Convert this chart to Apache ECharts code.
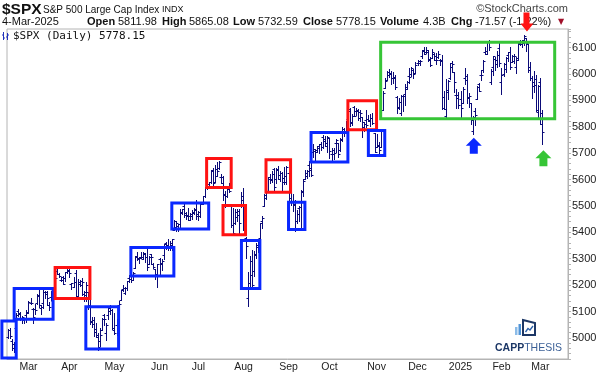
<!DOCTYPE html>
<html>
<head>
<meta charset="utf-8">
<script src="https://cdn.jsdelivr.net/npm/echarts@6/dist/echarts.min.js"></script>
<style>
  html, body { margin: 0; padding: 0; background: #fff; }
  #chart { width: 600px; height: 376px; }
</style>
</head>
<body>
<div id="chart"></div>
<script>
// trading days, market holidays skipped
const holidays = ['2024-02-19', '2024-03-29', '2024-05-27', '2024-06-19', '2024-07-04', '2024-09-02',
  '2024-11-28', '2024-12-25', '2025-01-01', '2025-01-09', '2025-01-20', '2025-02-17'];
const monthNames = ['Jan', 'Feb', 'Mar', 'Apr', 'May', 'Jun', 'Jul', 'Aug', 'Sep', 'Oct', 'Nov', 'Dec'];
const firstBar = '2024-02-15';

// daily OHLC from 15-Feb-2024, one line per month (Feb-2024 ... Mar-2025)
const open = [
  5003, 5031, 4989, 4963, 5039, 5101, 5093, 5075, 5067, 5085,
  5099, 5131, 5111, 5108, 5132, 5164, 5112, 5134, 5173, 5175, 5123, 5155, 5139, 5182, 5253, 5242, 5220, 5229, 5226, 5248,
  5258, 5204, 5194, 5244, 5159, 5211, 5217, 5168, 5173, 5172, 5150, 5065, 5069, 5032, 5005, 4987, 5029, 5085, 5020, 5085, 5114, 5104,
  5029, 5049, 5123, 5142, 5187, 5169, 5189, 5225, 5233, 5221, 5263, 5310, 5303, 5305, 5299, 5319, 5340, 5281, 5316, 5279, 5260, 5243,
  5297, 5278, 5314, 5358, 5344, 5341, 5353, 5409, 5442, 5424, 5431, 5476, 5500, 5467, 5460, 5461, 5461, 5474, 5488,
  5471, 5462, 5507, 5538, 5573, 5584, 5591, 5635, 5591, 5638, 5644, 5610, 5609, 5543, 5538, 5565, 5506, 5429, 5434, 5477, 5479, 5506,
  5538, 5377, 5151, 5206, 5293, 5253, 5315, 5352, 5377, 5442, 5501, 5531, 5557, 5603, 5603, 5638, 5603, 5640, 5603, 5625, 5607, 5613,
  5624, 5520, 5520, 5507, 5442, 5491, 5496, 5557, 5603, 5615, 5656, 5642, 5703, 5709, 5712, 5728, 5734, 5762, 5755, 5727,
  5758, 5698, 5698, 5738, 5738, 5710, 5752, 5778, 5775, 5830, 5867, 5817, 5876, 5859, 5858, 5833, 5835, 5817, 5827, 5830, 5820, 5833, 5775,
  5723, 5725, 5722, 5865, 5947, 5977, 6009, 6004, 5986, 5990, 5913, 5874, 5850, 5917, 5924, 5944, 5992, 6000, 6014, 6004,
  6040, 6043, 6069, 6089, 6081, 6083, 6058, 6060, 6074, 6068, 6064, 6053, 6048, 5913, 5842, 5940, 5985, 6025, 6006, 5921, 5920,
  5903, 5891, 5983, 5993, 5911, 5891, 5782, 5860, 5906, 5961, 5995, 6014, 6081, 6076, 6121, 5969, 6027, 6058, 6051, 6097,
  5970, 5998, 6020, 6072, 6083, 6046, 6049, 6025, 6061, 6116, 6122, 6118, 6135, 6114, 6027, 5983, 5971, 5982, 5857,
  5968, 5812
];
const high = [
  5033, 5039, 4994, 4983, 5094, 5111, 5098, 5081, 5077, 5105,
  5140, 5150, 5115, 5128, 5166, 5189, 5125, 5180, 5179, 5177, 5137, 5176, 5180, 5226, 5261, 5246, 5229, 5235, 5249, 5265,
  5264, 5208, 5229, 5257, 5222, 5220, 5225, 5178, 5212, 5175, 5168, 5080, 5078, 5057, 5019, 5039, 5076, 5089, 5058, 5115, 5123, 5111,
  5096, 5073, 5139, 5181, 5200, 5192, 5215, 5240, 5237, 5250, 5312, 5325, 5305, 5325, 5324, 5323, 5342, 5312, 5316, 5282, 5260, 5280,
  5302, 5299, 5354, 5362, 5375, 5366, 5376, 5447, 5442, 5432, 5489, 5490, 5506, 5478, 5491, 5473, 5483, 5491, 5524,
  5480, 5510, 5539, 5570, 5583, 5591, 5635, 5642, 5656, 5667, 5670, 5622, 5614, 5558, 5570, 5585, 5508, 5492, 5488, 5488, 5490, 5552,
  5566, 5384, 5251, 5312, 5331, 5328, 5359, 5371, 5437, 5463, 5546, 5562, 5608, 5621, 5633, 5643, 5642, 5652, 5631, 5627, 5647, 5651,
  5624, 5552, 5546, 5522, 5484, 5498, 5560, 5601, 5636, 5636, 5671, 5690, 5734, 5715, 5725, 5735, 5741, 5767, 5764, 5765,
  5758, 5719, 5719, 5753, 5739, 5758, 5797, 5795, 5822, 5871, 5870, 5847, 5878, 5872, 5867, 5863, 5835, 5818, 5863, 5843, 5847, 5851, 5775,
  5773, 5741, 5783, 5936, 5984, 6012, 6017, 6010, 6008, 5994, 5915, 5909, 5921, 5921, 5963, 5973, 6021, 6025, 6020, 6044,
  6054, 6052, 6090, 6100, 6100, 6089, 6065, 6093, 6080, 6079, 6085, 6058, 6071, 5936, 5982, 5978, 6040, 6050, 6006, 5941, 5930,
  5935, 5949, 6021, 6001, 5928, 5891, 5839, 5872, 5954, 5965, 6015, 6052, 6101, 6119, 6128, 6017, 6069, 6063, 6087, 6121,
  6022, 6042, 6063, 6084, 6101, 6073, 6076, 6063, 6117, 6127, 6130, 6147, 6135, 6115, 6044, 5993, 6010, 5994, 5959,
  5986, 5865
];
const low = [
  4999, 5000, 4955, 4946, 5039, 5081, 5069, 5057, 5058, 5062,
  5094, 5127, 5057, 5092, 5128, 5118, 5091, 5114, 5152, 5123, 5104, 5145, 5132, 5172, 5241, 5230, 5216, 5203, 5214, 5246,
  5229, 5184, 5194, 5146, 5157, 5197, 5161, 5139, 5139, 5108, 5052, 5040, 5007, 5002, 4954, 4969, 5028, 5047, 4991, 5073, 5089, 5035,
  5013, 5011, 5101, 5142, 5179, 5166, 5180, 5210, 5211, 5218, 5263, 5296, 5284, 5302, 5298, 5286, 5257, 5278, 5281, 5263, 5222, 5192,
  5234, 5258, 5298, 5335, 5331, 5332, 5331, 5409, 5403, 5404, 5420, 5471, 5456, 5452, 5448, 5447, 5452, 5468, 5451,
  5447, 5458, 5507, 5532, 5563, 5575, 5586, 5577, 5590, 5615, 5639, 5585, 5523, 5497, 5533, 5551, 5420, 5391, 5431, 5444, 5398, 5494,
  5410, 5302, 5119, 5194, 5196, 5234, 5301, 5324, 5377, 5418, 5501, 5525, 5551, 5586, 5592, 5561, 5585, 5602, 5593, 5561, 5584, 5582,
  5504, 5502, 5481, 5403, 5434, 5442, 5407, 5536, 5602, 5605, 5614, 5615, 5686, 5674, 5704, 5699, 5712, 5721, 5727, 5704,
  5681, 5674, 5677, 5703, 5687, 5707, 5745, 5765, 5775, 5830, 5804, 5808, 5840, 5846, 5825, 5821, 5762, 5785, 5800, 5823, 5802, 5811, 5703,
  5723, 5697, 5722, 5865, 5947, 5977, 5987, 5960, 5966, 5942, 5853, 5866, 5846, 5861, 5884, 5944, 5964, 5992, 5985, 6004,
  6035, 6033, 6061, 6074, 6080, 6049, 6030, 6060, 6051, 6036, 6059, 6035, 5868, 5866, 5832, 5903, 5981, 6007, 5933, 5869, 5869,
  5830, 5889, 5960, 5891, 5875, 5809, 5773, 5806, 5906, 5935, 5978, 6007, 6076, 6075, 6089, 5963, 5994, 6013, 6027, 6031,
  5924, 5991, 6007, 6047, 6020, 6045, 6042, 6003, 6051, 6108, 6100, 6111, 6085, 6009, 5978, 5908, 5933, 5859, 5838,
  5811, 5733
];
const close = [
  5030, 5006, 4976, 4982, 5087, 5089, 5070, 5078, 5070, 5096,
  5137, 5131, 5079, 5105, 5157, 5124, 5118, 5175, 5165, 5150, 5117, 5149, 5179, 5225, 5242, 5234, 5218, 5204, 5248, 5254,
  5244, 5206, 5211, 5147, 5204, 5202, 5210, 5161, 5199, 5123, 5062, 5051, 5022, 5011, 4967, 5011, 5071, 5072, 5048, 5100, 5116, 5036,
  5018, 5064, 5128, 5181, 5188, 5188, 5214, 5223, 5221, 5247, 5308, 5297, 5303, 5308, 5321, 5307, 5268, 5305, 5306, 5267, 5235, 5278,
  5283, 5291, 5354, 5353, 5347, 5361, 5375, 5421, 5434, 5432, 5473, 5487, 5473, 5465, 5448, 5469, 5478, 5483, 5460,
  5475, 5509, 5537, 5567, 5573, 5577, 5634, 5585, 5615, 5631, 5667, 5588, 5545, 5505, 5564, 5556, 5427, 5399, 5459, 5464, 5436, 5522,
  5447, 5347, 5186, 5240, 5200, 5319, 5344, 5344, 5434, 5455, 5543, 5554, 5608, 5597, 5621, 5571, 5635, 5617, 5626, 5592, 5592, 5648,
  5529, 5520, 5503, 5408, 5471, 5496, 5554, 5596, 5626, 5633, 5635, 5618, 5714, 5703, 5719, 5733, 5722, 5745, 5738, 5762,
  5709, 5710, 5700, 5751, 5696, 5751, 5792, 5780, 5815, 5860, 5815, 5842, 5841, 5865, 5854, 5851, 5797, 5810, 5808, 5824, 5833, 5814, 5705,
  5729, 5713, 5783, 5929, 5973, 5996, 6001, 5984, 5985, 5949, 5871, 5894, 5917, 5917, 5949, 5969, 5987, 6022, 5999, 6032,
  6047, 6050, 6086, 6075, 6090, 6053, 6035, 6084, 6051, 6051, 6074, 6051, 5872, 5867, 5931, 5974, 6040, 6038, 5971, 5907, 5882,
  5869, 5942, 5975, 5909, 5918, 5827, 5836, 5843, 5950, 5937, 5997, 6049, 6086, 6119, 6101, 6012, 6068, 6039, 6071, 6041,
  5995, 6038, 6061, 6084, 6026, 6066, 6069, 6052, 6115, 6115, 6130, 6144, 6118, 6013, 5983, 5955, 5956, 5862, 5955,
  5850, 5778
];

// hand-drawn boxes: [from, to, low, high, colour]
const boxes = [
  ['2024-02-12', '2024-02-22', 4924, 5064, 'blue'],
  ['2024-02-21', '2024-03-19', 5071, 5187, 'blue'],
  ['2024-03-20', '2024-04-15', 5149, 5267, 'red'],
  ['2024-04-11', '2024-05-03', 4958, 5118, 'blue'],
  ['2024-05-13', '2024-06-12', 5234, 5342, 'blue'],
  ['2024-06-11', '2024-07-09', 5412, 5511, 'blue'],
  ['2024-07-08', '2024-07-24', 5570, 5679, 'red'],
  ['2024-07-18', '2024-08-02', 5391, 5501, 'red'],
  ['2024-07-31', '2024-08-13', 5187, 5369, 'blue'],
  ['2024-08-16', '2024-09-04', 5552, 5675, 'red'],
  ['2024-09-03', '2024-09-13', 5411, 5514, 'blue'],
  ['2024-09-18', '2024-10-14', 5666, 5778, 'blue'],
  ['2024-10-14', '2024-11-01', 5788, 5898, 'red'],
  ['2024-10-28', '2024-11-07', 5691, 5786, 'blue'],
  ['2024-11-05', '2025-03-12', 5830, 6120, 'green']
];
// arrows: [date, price, direction, colour]
const arrows = [
  ['2025-01-13', 5773, 'up', 'blue'],
  ['2025-03-04', 5733, 'up', 'green'],
  ['2025-02-19', 6147, 'down', 'red']
];

const colors = { blue: '#0a28ff', red: '#ff1212', green: '#36c536' };
const barColor = '#0b0b78';

function makeDates(start, end) {
  const out = [];
  const d = new Date(start + 'T00:00:00Z');
  while (true) {
    const s = d.toISOString().slice(0, 10);
    if (s > end) break;
    const wd = d.getUTCDay();
    if (wd !== 0 && wd !== 6 && holidays.indexOf(s) < 0) out.push(s);
    d.setUTCDate(d.getUTCDate() + 1);
  }
  return out;
}
// a few sessions before the first bar (box overhang) and empty sessions on the right
const dates = makeDates('2024-02-12', '2025-03-20');
const first = dates.indexOf(firstBar);

const isMonthStart = (i) => i > first && dates[i].slice(0, 7) !== dates[i - 1].slice(0, 7);

const ohlc = close.map((c, i) => [dates[first + i], open[i], high[i], low[i], c]);

function renderOhlc(params, api) {
  const hi = api.coord([api.value(0), api.value(2)]);
  const lo = api.coord([api.value(0), api.value(3)]);
  const yo = Math.round(api.coord([api.value(0), api.value(1)])[1]) + 0.5;
  const yc = Math.round(api.coord([api.value(0), api.value(4)])[1]) + 0.5;
  const x = Math.round(hi[0]) + 0.5;
  const st = { stroke: barColor, lineWidth: 1 };
  return {
    type: 'group',
    children: [
      { type: 'line', shape: { x1: x, y1: Math.round(hi[1]), x2: x, y2: Math.round(lo[1]) + 1 }, style: st },
      { type: 'line', shape: { x1: x - 2, y1: yo, x2: x, y2: yo }, style: st },
      { type: 'line', shape: { x1: x, y1: yc, x2: x + 2, y2: yc }, style: st }
    ]
  };
}

function renderBox(params, api) {
  const p0 = api.coord([api.value(0), api.value(2)]);
  const p1 = api.coord([api.value(1), api.value(3)]);
  const b = boxes[params.dataIndex];
  return {
    type: 'rect',
    shape: { x: p0[0], y: p1[1], width: p1[0] - p0[0], height: p0[1] - p1[1] },
    style: { fill: null, stroke: colors[b[4]], lineWidth: 3 }
  };
}

const upPath = 'path://M8,0 L16,8 L12,8 L12,16 L4,16 L4,8 L0,8 Z';
const downPath = 'path://M3,0 L9,0 L9,11 L13,11 L6.5,19 L0,11 L3,11 Z';

const chart = echarts.init(document.getElementById('chart'), null, { renderer: 'canvas' });

const hdr = (x, y, text, font, fill, align) => ({
  type: 'text', x: x, y: y, z: 1,
  style: { text: text, font: font, fill: fill || '#111', verticalAlign: 'middle', align: align || 'left' }
});
const B = 'bold 11px "Liberation Sans"';
const N = '11px "Liberation Sans"';

const option = {
  animation: false,
  backgroundColor: '#fff',
  grid: { left: 7, right: 32, top: 29, bottom: 17, show: true, borderColor: '#b4b4b4', borderWidth: 1 },
  xAxis: {
    type: 'category',
    data: dates,
    min: firstBar,
    axisLine: { lineStyle: { color: '#b4b4b4' } },
    axisTick: { interval: (i) => isMonthStart(i), alignWithLabel: true, length: 3, lineStyle: { color: '#b4b4b4' } },
    axisLabel: {
      interval: (i) => isMonthStart(i),
      formatter: (v) => v.slice(5, 7) === '01' ? v.slice(0, 4) : monthNames[+v.slice(5, 7) - 1],
      color: '#222', fontFamily: 'Liberation Sans', fontSize: 10.5, margin: 3
    },
    splitLine: { show: false }
  },
  yAxis: {
    type: 'value',
    position: 'right',
    min: 4920, max: 6170, interval: 20,
    axisLine: { show: true, lineStyle: { color: '#b4b4b4' } },
    axisTick: { show: true, length: 3, lineStyle: { color: '#b4b4b4' } },
    axisLabel: {
      formatter: (v) => v % 100 === 0 ? String(v) : '',
      color: '#222', fontFamily: 'Liberation Sans', fontSize: 11, margin: 4
    },
    splitLine: { show: false }
  },
  series: [
    {
      name: '$SPX',
      type: 'custom',
      renderItem: renderOhlc,
      data: ohlc,
      encode: { x: 0, y: [1, 2, 3, 4] },
      z: 3
    },
    {
      name: 'boxes',
      type: 'custom',
      renderItem: renderBox,
      clip: false,
      silent: true,
      data: boxes.map((b) => [b[0], b[1], b[2], b[3]]),
      encode: { x: [0, 1], y: [2, 3] },
      z: 5
    },
    {
      name: 'arrows',
      type: 'line',
      data: [],
      symbol: 'none',
      silent: true,
      markPoint: {
        silent: true,
        z: 12,
        label: { show: false },
        data: arrows.map((a) => ({
          coord: [a[0], a[1]],
          symbol: a[2] === 'up' ? upPath : downPath,
          symbolSize: a[2] === 'up' ? [16, 16] : [13, 19],
          symbolOffset: a[2] === 'up' ? [1, a[3] === 'blue' ? 12 : 14] : [3, -13],
          symbolKeepAspect: false,
          itemStyle: { color: colors[a[3]] }
        }))
      }
    }
  ],
  graphic: [
    hdr(2, 10, '$SPX', 'bold 15.5px "Liberation Sans"'),
    hdr(43, 10, 'S&P 500 Large Cap Index', '10px "Liberation Sans"'),
    hdr(162, 10, 'INDX', '9px "Liberation Sans"'),
    hdr(568, 9, '\u00a9StockCharts.com', '11px "Liberation Sans"', '#444', 'right'),
    hdr(2, 22, '4-Mar-2025', N),
    hdr(87, 22, 'Open', B), hdr(118, 22, '5811.98', N),
    hdr(162, 22, 'High', B), hdr(189, 22, '5865.08', N),
    hdr(233, 22, 'Low', B), hdr(258, 22, '5732.59', N),
    hdr(303, 22, 'Close', B), hdr(336, 22, '5778.15', N),
    hdr(380, 22, 'Volume', B), hdr(423, 22, '4.3B', N),
    hdr(451, 22, 'Chg', B), hdr(475, 22, '-71.57', N), hdr(509, 22, '(-1.22%)', N),
    hdr(558, 22, '\u25bc', '8px "DejaVu Sans"', '#a0102a'),
    // legend
    { type: 'polyline', z: 1, shape: { points: [[2, 35], [3.5, 35], [3.5, 32], [3.5, 40], [3.5, 38], [5, 38]] }, style: { stroke: '#2233bb', lineWidth: 1, fill: null } },
    { type: 'polyline', z: 1, shape: { points: [[6, 37], [7.5, 37], [7.5, 33], [7.5, 40], [7.5, 35], [9, 35]] }, style: { stroke: '#2233bb', lineWidth: 1, fill: null } },
    hdr(13, 36, '$SPX (Daily) 5778.15', '11px "DejaVu Sans Mono"', '#111'),
    // CAPPTHESIS logo
    { type: 'rect', z: 1, shape: { x: 515, y: 327, width: 2.5, height: 8 }, style: { fill: '#8cbce8' } },
    { type: 'rect', z: 1, shape: { x: 518.5, y: 324, width: 2.5, height: 11 }, style: { fill: '#4f93d6' } },
    { type: 'polygon', z: 1, shape: { points: [[523, 320], [535, 323], [535, 335], [523, 335]] }, style: { fill: null, stroke: '#1c3766', lineWidth: 2 } },
    { type: 'polyline', z: 1, shape: { points: [[525.5, 332], [528, 328.5], [530, 330], [533, 326]] }, style: { stroke: '#2b5fa8', lineWidth: 1.3, fill: null } },
    {
      type: 'text', x: 495, y: 348, z: 1,
      style: {
        text: '{a|CAPP}{b|THESIS}', verticalAlign: 'middle',
        rich: {
          a: { font: 'bold 10.5px "Liberation Sans"', fill: '#1c3766' },
          b: { font: '10.5px "Liberation Sans"', fill: '#3a5f96' }
        }
      }
    }
  ]
};

chart.setOption(option);
</script>
</body>
</html>
